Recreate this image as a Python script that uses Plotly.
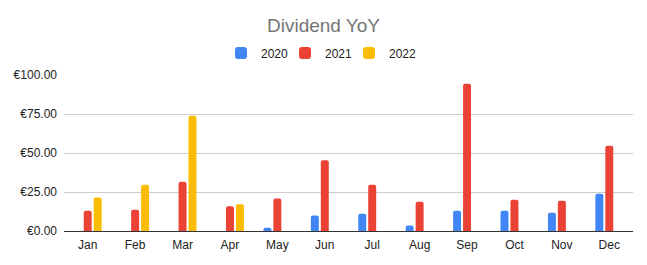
import plotly.graph_objects as go

months = ["Jan", "Feb", "Mar", "Apr", "May", "Jun", "Jul", "Aug", "Sep", "Oct", "Nov", "Dec"]
y2020 = [0, 0, 0, 0, 2.1, 10.0, 11.1, 3.6, 13.0, 13.0, 11.7, 23.9]
y2021 = [13.0, 13.6, 31.6, 15.8, 20.9, 45.3, 29.7, 18.8, 94.4, 20.1, 19.4, 54.7]
y2022 = [21.5, 29.7, 73.9, 17.1, 0, 0, 0, 0, 0, 0, 0, 0]
ytick_vals = [0, 25, 50, 75, 100]
ytick_text = ["\u20ac0.00", "\u20ac25.00", "\u20ac50.00", "\u20ac75.00", "\u20ac100.00"]

series = [("2020", y2020, "#4285F4"), ("2021", y2021, "#EA4335"), ("2022", y2022, "#FBBC04")]
legend_ids = ["legend", "legend2", "legend3"]
legend_x = [221, 285, 349]

W, H = 647, 265
fig = go.Figure()
for (name, vals, col), lid in zip(series, legend_ids):
    fig.add_trace(go.Bar(x=months, y=vals, name=name, legend=lid,
                         marker=dict(color=col, line=dict(width=0))))

legend_style = dict(orientation="h", xref="container", yref="container", xanchor="left",
                    yanchor="middle", y=1 - 53 / H, font=dict(size=12, color="#222222"),
                    itemwidth=30, bgcolor="rgba(0,0,0,0)")
legends = {lid: dict(legend_style, x=lx / W) for lid, lx in zip(legend_ids, legend_x)}

fig.update_layout(
    width=W, height=H,
    margin=dict(l=64, r=14, t=75, b=34, autoexpand=False),
    paper_bgcolor="white", plot_bgcolor="white",
    font=dict(family="Liberation Sans, Arial, sans-serif", size=12, color="#222222"),
    title=dict(text="Dividend YoY", x=0.5, xanchor="center", y=0.905, yanchor="middle",
               font=dict(size=19, color="#757575")),
    barmode="group", bargap=0.37, bargroupgap=0.2, barcornerradius=2,
    showlegend=True,
    **legends,
)
fig.update_xaxes(showgrid=False, showline=True, linecolor="#333333", linewidth=1,
                 ticks="", tickfont=dict(size=12), ticklabelstandoff=3)
fig.update_yaxes(range=[0, 100], tickvals=ytick_vals, ticktext=ytick_text,
                 showgrid=True, gridcolor="#cccccc", gridwidth=1, zeroline=False,
                 tickfont=dict(size=12), ticks="", ticklabelstandoff=6)
fig.write_html("out.html")
